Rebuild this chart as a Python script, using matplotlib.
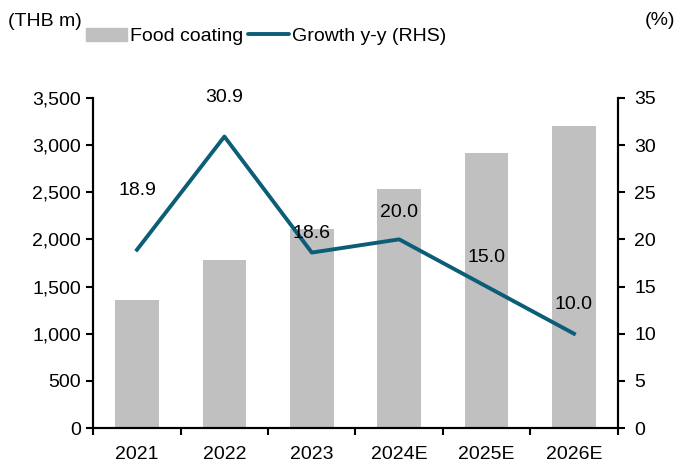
import matplotlib
matplotlib.use("Agg")
import matplotlib.pyplot as plt
from matplotlib.lines import Line2D
from matplotlib.patches import Patch

plt.rcParams['font.family'] = ['Liberation Sans', 'DejaVu Sans']
plt.rcParams['font.size'] = 14

# data
years = ['2021', '2022', '2023', '2024E', '2025E', '2026E']
food_coating = [1357, 1782, 2110, 2535, 2917, 3203]
growth = [18.9, 30.9, 18.6, 20.0, 15.0, 10.0]
growth_labels = ['18.9', '30.9', '18.6', '20.0', '15.0', '10.0']
label_offsets = [43, 28, 14, 19, 21, 21]  # points above the line (label centre)

bar_col = '#C0C0C0'
line_col = '#0B5D78'
fs = 14

fig = plt.figure(figsize=(6.81, 4.66), dpi=100)
ax = fig.add_axes([0.137, 0.0815, 0.770, 0.7085])
ax2 = ax.twinx()

x = range(len(years))
ax.bar(x, food_coating, width=0.5, color=bar_col, zorder=1)
ax.set_ylim(0, 3500)
ax.set_yticks(range(0, 3501, 500))
ax.set_yticklabels([f'{v:,}' for v in range(0, 3501, 500)])
ax.set_xlim(-0.5, len(years) - 0.5)
ax.set_xticks(list(x))
ax.set_xticklabels(years)
ax.set_xticks([i - 0.5 for i in range(len(years) + 1)], minor=True)
ax.tick_params(axis='x', which='major', length=0, pad=13, labelsize=fs)
ax.tick_params(axis='x', which='minor', length=5, width=1.5, direction='out')
ax.tick_params(axis='y', length=5, width=1.5, direction='out', pad=4, labelsize=fs)

ax2.plot(x, growth, color=line_col, lw=2.8, zorder=3)
ax2.set_ylim(0, 35)
ax2.set_yticks(range(0, 36, 5))
ax2.tick_params(axis='y', length=5, width=1.5, direction='out', pad=7, labelsize=fs)
for i, (v, lab) in enumerate(zip(growth, growth_labels)):
    ax2.annotate(lab, (i, v), xytext=(0, label_offsets[i]), textcoords='offset points',
                 ha='center', va='center', fontsize=fs)

for a in (ax, ax2):
    a.spines['top'].set_visible(False)
    for s in ('left', 'right', 'bottom'):
        a.spines[s].set_linewidth(1.5)

fig.text(0.012, 0.953, '(THB m)', fontsize=fs, ha='left', va='center')
fig.text(0.992, 0.956, '(%)', fontsize=fs, ha='right', va='center')

handles = [Patch(color=bar_col),
           Line2D([0], [0], color=line_col, lw=2.8, solid_capstyle='round')]
fig.legend(handles, ['Food coating', 'Growth y-y (RHS)'], loc='center',
           bbox_to_anchor=(0.391, 0.922), ncol=2, frameon=False, fontsize=fs,
           handlelength=2.1, handletextpad=0.15, columnspacing=0.25)

plt.savefig('out.png', dpi=100)
